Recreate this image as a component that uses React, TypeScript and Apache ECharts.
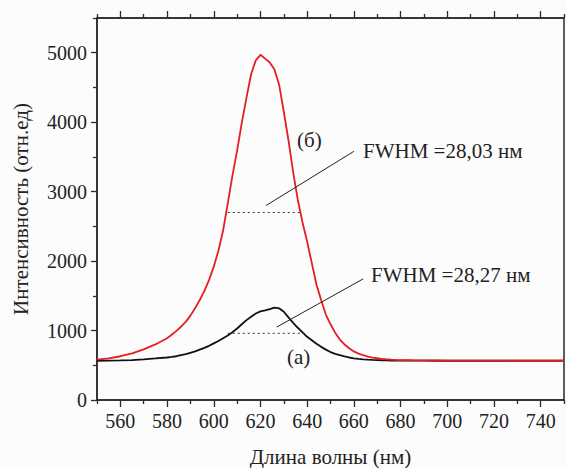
import React, { useEffect, useRef } from "react";
import * as echarts from "echarts";

const wavelengths = [
  550, 555, 560, 565, 570, 575, 580,
  582, 584, 586, 588, 590, 592, 594, 596, 598, 600,
  602, 604, 606, 608, 610, 612, 614, 616, 618, 620,
  622, 624, 626, 628, 630, 632, 634, 636, 638, 640,
  642, 644, 646, 648, 650, 652, 654, 656, 658, 660,
  662, 664, 666, 668, 670, 672, 674, 676, 678, 680,
  685, 690, 695, 700, 705, 710, 715, 720, 725, 730, 735, 740, 745, 750,
];

// (б) red spectrum
const spectrumB = [
  580, 600, 630, 672, 728, 800, 890,
  940, 995, 1055, 1125, 1215, 1320, 1440, 1570, 1730, 1920,
  2150, 2440, 2830, 3230, 3590, 3990, 4350, 4690, 4890, 4970,
  4915, 4860, 4760, 4540, 4150, 3740, 3280, 2880, 2560, 2280,
  1970, 1660, 1440, 1230, 1090, 970, 870, 800, 745, 700,
  668, 645, 626, 611, 601, 593, 587, 582, 578, 575,
  572, 570, 569, 568, 567, 567, 566, 566, 566, 565, 565, 565, 565, 565,
];

// (а) black spectrum
const spectrumA = [
  565, 566, 570, 575, 585, 598, 612,
  620, 630, 645, 660, 680, 700, 725, 750, 780, 815,
  850, 890, 930, 975, 1030, 1090, 1150, 1200, 1245, 1275,
  1290, 1310, 1330, 1320, 1270, 1190, 1110, 1040, 975, 910,
  860, 810, 765, 725, 690, 665, 645, 628, 612, 600,
  592, 586, 581, 577, 574, 572, 570, 569, 568, 567,
  566, 566, 565, 565, 565, 565, 565, 565, 565, 565, 565, 565, 565, 565,
];

const xMajorTicks = [560, 580, 600, 620, 640, 660, 680, 700, 720, 740];
const xMinorTicks = [550, 570, 590, 610, 630, 650, 670, 690, 710, 730, 750];
const yMajorTicks = [0, 1000, 2000, 3000, 4000, 5000];
const yMinorTicks = [500, 1500, 2500, 3500, 4500, 5500];

const fwhmLineB = [[606, 2700], [637.3, 2700]];
const fwhmLineA = [[606, 960], [639.5, 960]];
const arrowB = [[660, 3580], [622.4, 2800]];
const arrowA = [[664, 1744], [627, 1050]];

const X_MIN = 550, X_MAX = 750, Y_MIN = 0, Y_MAX = 5500;
const FONT = "Liberation Serif";
const AXIS_COLOR = "#2a2a2a";
const MAJOR_LEN = 7, MINOR_LEN = 4;

export default function App() {
  const ref = useRef<HTMLDivElement>(null);
  useEffect(() => {
    document.body.style.margin = "0";
    const chart = echarts.init(ref.current!, null, { renderer: "svg" });

    const axisLine = { show: true, lineStyle: { color: AXIS_COLOR, width: 1.5 } };
    const noLine = { show: false };
    const tick = (vals: number[], len: number) => ({
      show: true, inside: false, length: len, customValues: vals,
      lineStyle: { color: AXIS_COLOR, width: 1.3 },
    });
    const xBase = { type: "value", min: X_MIN, max: X_MAX, splitLine: { show: false } };
    const yBase = { type: "value", min: Y_MIN, max: Y_MAX, splitLine: { show: false } };
    const arrowMark = (pts: number[][]) => ({
      silent: true,
      symbol: ["none", "arrow"],
      symbolSize: [0, 10],
      label: { show: false },
      lineStyle: { color: "#222", width: 1, type: "solid" },
      data: [[{ coord: pts[0] }, { coord: pts[1] }]],
    });
    const textStyle = (text: string) => ({
      text, font: `21px ${FONT}`, fill: "#222",
      textVerticalAlign: "middle", verticalAlign: "middle",
    });

    chart.setOption({
      animation: false,
      backgroundColor: "#fcfcfc",
      textStyle: { fontFamily: FONT },
      grid: {
        left: 97, right: 2, top: 18, bottom: 68,
        containLabel: false, outerBoundsMode: "none",
        show: true, borderColor: AXIS_COLOR, borderWidth: 1.5,
      },
      xAxis: [
        {
          ...xBase, position: "bottom", axisLine,
          axisTick: tick(xMajorTicks, MAJOR_LEN),
          axisLabel: {
            customValues: xMajorTicks, fontFamily: FONT, fontSize: 20, color: "#222", margin: 11,
            formatter: (v: number) => String(v),
          },
          name: "Длина волны (нм)", nameLocation: "middle", nameGap: 46,
          nameTextStyle: { fontFamily: FONT, fontSize: 21, color: "#222" },
        },
        { ...xBase, position: "bottom", axisLine: noLine, axisTick: tick(xMinorTicks, MINOR_LEN), axisLabel: { show: false } },
        { ...xBase, position: "top", axisLine, axisTick: tick(xMajorTicks, MAJOR_LEN), axisLabel: { show: false } },
        { ...xBase, position: "top", axisLine: noLine, axisTick: tick(xMinorTicks, MINOR_LEN), axisLabel: { show: false } },
      ],
      yAxis: [
        {
          ...yBase, position: "left", axisLine,
          axisTick: tick(yMajorTicks, MAJOR_LEN - 1),
          axisLabel: {
            customValues: yMajorTicks, fontFamily: FONT, fontSize: 20, color: "#222", margin: 10,
            formatter: (v: number) => String(v),
          },
          name: "Интенсивность (отн.ед)", nameLocation: "middle", nameGap: 66,
          nameTextStyle: { fontFamily: FONT, fontSize: 21, color: "#222" },
        },
        { ...yBase, position: "left", axisLine: noLine, axisTick: tick(yMinorTicks, MINOR_LEN), axisLabel: { show: false } },
      ],
      series: [
        {
          name: "(а)", type: "line", symbol: "none", smooth: false,
          data: wavelengths.map((w, i) => [w, spectrumA[i]]),
          lineStyle: { color: "#111", width: 1.8 },
        },
        {
          name: "(б)", type: "line", symbol: "none", smooth: false,
          data: wavelengths.map((w, i) => [w, spectrumB[i]]),
          lineStyle: { color: "#e31e24", width: 1.8 },
        },
        {
          name: "FWHM (б)", type: "line", symbol: "none", data: fwhmLineB,
          lineStyle: { color: "#333", width: 1, type: [2, 3] },
          markLine: arrowMark(arrowB),
        },
        {
          name: "FWHM (а)", type: "line", symbol: "none", data: fwhmLineA,
          lineStyle: { color: "#333", width: 1, type: [2, 3] },
          markLine: arrowMark(arrowA),
        },
      ],
      graphic: [
        { type: "text", x: 363, y: 151, style: textStyle("FWHM =28,03 нм") },
        { type: "text", x: 371, y: 275, style: textStyle("FWHM =28,27 нм") },
        { type: "text", x: 297, y: 140, style: textStyle("(б)") },
        { type: "text", x: 287, y: 357, style: textStyle("(а)") },
      ],
    });
    return () => chart.dispose();
  }, []);
  return <div ref={ref} style={{ position: "absolute", left: 0, top: 0, width: 566, height: 468 }} />;
}
